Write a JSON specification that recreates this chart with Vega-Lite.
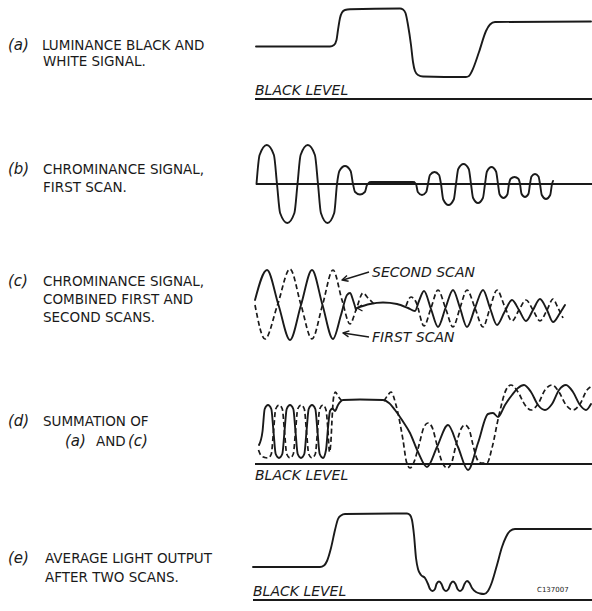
{
"$schema":"https://vega.github.io/schema/vega-lite/v6.json",
"width":592,"height":611,"padding":0,"autosize":{"type":"none"},
"background":"white",
"config":{"view":{"stroke":null}},
"datasets":{
"solid":[
{"id":"a","x":256,"y":46.5},{"id":"a","x":330,"y":46.5},{"id":"a","x":334,"y":45},{"id":"a","x":336.5,"y":40},{"id":"a","x":338,"y":30},{"id":"a","x":340,"y":18},{"id":"a","x":342,"y":12.5},{"id":"a","x":345,"y":10},{"id":"a","x":350,"y":9.3},{"id":"a","x":400,"y":8.5},{"id":"a","x":403,"y":9.5},{"id":"a","x":405.5,"y":13},{"id":"a","x":408,"y":25},{"id":"a","x":411,"y":45},{"id":"a","x":413,"y":62},{"id":"a","x":415,"y":71},{"id":"a","x":418,"y":75},{"id":"a","x":423,"y":76.5},{"id":"a","x":466,"y":77},{"id":"a","x":469,"y":76},{"id":"a","x":472,"y":71},{"id":"a","x":479,"y":52},{"id":"a","x":486,"y":31},{"id":"a","x":490,"y":24.5},{"id":"a","x":495,"y":22},{"id":"a","x":591,"y":21.5},
{"id":"b","x":256.5,"y":184},{"id":"b","x":259.6,"y":155},{"id":"b","x":266.8,"y":145},{"id":"b","x":273.9,"y":155},{"id":"b","x":277,"y":184},
{"id":"b","x":280.1,"y":213},{"id":"b","x":287.3,"y":223},{"id":"b","x":294.4,"y":213},{"id":"b","x":297.5,"y":184},
{"id":"b","x":300.6,"y":155},{"id":"b","x":307.8,"y":145},{"id":"b","x":314.9,"y":155},{"id":"b","x":318,"y":184},
{"id":"b","x":320.9,"y":213},{"id":"b","x":327.5,"y":223},{"id":"b","x":334.2,"y":213},{"id":"b","x":337,"y":184},
{"id":"b","x":339.4,"y":171},{"id":"b","x":345,"y":166},{"id":"b","x":350.6,"y":171},{"id":"b","x":353,"y":184},
{"id":"b","x":355.1,"y":192},{"id":"b","x":360,"y":194.5},{"id":"b","x":364.9,"y":192},{"id":"b","x":367,"y":185},
{"id":"b","x":371,"y":182},{"id":"b","x":413,"y":182},{"id":"b","x":416,"y":184},
{"id":"b","x":417.8,"y":192},{"id":"b","x":422,"y":195},{"id":"b","x":426.2,"y":192},{"id":"b","x":428,"y":184},
{"id":"b","x":429.95,"y":175},{"id":"b","x":434.5,"y":172},{"id":"b","x":439.05,"y":175},{"id":"b","x":441,"y":184},
{"id":"b","x":443.25,"y":199.5},{"id":"b","x":448.5,"y":205},{"id":"b","x":453.75,"y":199.5},{"id":"b","x":456,"y":184},
{"id":"b","x":458.25,"y":169},{"id":"b","x":463.5,"y":164},{"id":"b","x":468.75,"y":169},{"id":"b","x":471,"y":184},
{"id":"b","x":473.1,"y":198},{"id":"b","x":478,"y":203},{"id":"b","x":482.9,"y":198},{"id":"b","x":485,"y":184},
{"id":"b","x":486.95,"y":171.5},{"id":"b","x":491.5,"y":167},{"id":"b","x":496.05,"y":171.5},{"id":"b","x":498,"y":184},
{"id":"b","x":499.65,"y":194.5},{"id":"b","x":503.5,"y":198},{"id":"b","x":507.35,"y":194.5},{"id":"b","x":509,"y":184},
{"id":"b","x":510.65,"y":178.8},{"id":"b","x":514.5,"y":177},{"id":"b","x":518.35,"y":178.8},{"id":"b","x":520,"y":184},
{"id":"b","x":521.5,"y":193.7},{"id":"b","x":525,"y":197},{"id":"b","x":528.5,"y":193.7},{"id":"b","x":530,"y":184},
{"id":"b","x":531.5,"y":176.5},{"id":"b","x":535,"y":174},{"id":"b","x":538.5,"y":176.5},{"id":"b","x":540,"y":184},
{"id":"b","x":541.8,"y":195},{"id":"b","x":546,"y":199},{"id":"b","x":550.2,"y":195},{"id":"b","x":552,"y":184},{"id":"b","x":553,"y":181},
{"id":"c1","x":255,"y":300},{"id":"c1","x":267,"y":270},{"id":"c1","x":278.5,"y":305},{"id":"c1","x":290,"y":340},{"id":"c1","x":301,"y":305},{"id":"c1","x":312,"y":270},{"id":"c1","x":322.5,"y":305},{"id":"c1","x":333,"y":339},{"id":"c1","x":341,"y":315},{"id":"c1","x":347,"y":295},{"id":"c1","x":350,"y":293},{"id":"c1","x":353,"y":300},{"id":"c1","x":356,"y":310},
{"id":"c2","x":357,"y":308},{"id":"c2","x":370,"y":304},{"id":"c2","x":383,"y":302.5},{"id":"c2","x":397,"y":304},{"id":"c2","x":408,"y":308},{"id":"c2","x":415,"y":311},{"id":"c2","x":419,"y":301},{"id":"c2","x":424,"y":291},{"id":"c2","x":431,"y":309},{"id":"c2","x":438,"y":327},{"id":"c2","x":445.5,"y":308},{"id":"c2","x":453,"y":290},{"id":"c2","x":460,"y":308},{"id":"c2","x":467,"y":327},{"id":"c2","x":475,"y":308},{"id":"c2","x":483,"y":290},{"id":"c2","x":490,"y":308},{"id":"c2","x":497,"y":325},{"id":"c2","x":504.5,"y":312},{"id":"c2","x":512,"y":300},{"id":"c2","x":519,"y":310},{"id":"c2","x":526,"y":321},{"id":"c2","x":533,"y":310},{"id":"c2","x":540,"y":299},{"id":"c2","x":547,"y":310},{"id":"c2","x":553,"y":322},{"id":"c2","x":560,"y":313},{"id":"c2","x":565,"y":305},
{"id":"d","x":259,"y":445},{"id":"d","x":262.5,"y":431.5},{"id":"d","x":264.7,"y":409},{"id":"d","x":268,"y":405},{"id":"d","x":271.3,"y":409},{"id":"d","x":273.5,"y":431.5},
{"id":"d","x":275.7,"y":454},{"id":"d","x":279,"y":458},{"id":"d","x":282.3,"y":454},{"id":"d","x":284.5,"y":431.5},
{"id":"d","x":286.7,"y":409},{"id":"d","x":290,"y":405},{"id":"d","x":293.3,"y":409},{"id":"d","x":295.5,"y":431.5},
{"id":"d","x":297.7,"y":454},{"id":"d","x":301,"y":458},{"id":"d","x":304.3,"y":454},{"id":"d","x":306.5,"y":431.5},
{"id":"d","x":308.7,"y":409},{"id":"d","x":312,"y":405},{"id":"d","x":315.3,"y":409},{"id":"d","x":317.5,"y":431.5},
{"id":"d","x":319.7,"y":454},{"id":"d","x":323,"y":458},{"id":"d","x":326,"y":450},{"id":"d","x":328,"y":428},{"id":"d","x":330,"y":411},{"id":"d","x":332.5,"y":408.5},{"id":"d","x":335,"y":411},{"id":"d","x":338,"y":405},{"id":"d","x":343,"y":400},{"id":"d","x":360,"y":399.5},{"id":"d","x":383,"y":400},
{"id":"d","x":389,"y":403},{"id":"d","x":395,"y":410},{"id":"d","x":402,"y":420},{"id":"d","x":410,"y":433},{"id":"d","x":418,"y":452},{"id":"d","x":427,"y":467},{"id":"d","x":437,"y":447},{"id":"d","x":448,"y":425},{"id":"d","x":458,"y":447},{"id":"d","x":468,"y":470},{"id":"d","x":478,"y":443},{"id":"d","x":488,"y":414},{"id":"d","x":493,"y":413},{"id":"d","x":498,"y":417},
{"id":"d","x":505,"y":405},{"id":"d","x":512,"y":395},{"id":"d","x":518,"y":388},{"id":"d","x":524,"y":385},{"id":"d","x":531,"y":392},{"id":"d","x":538,"y":405},{"id":"d","x":545,"y":410},{"id":"d","x":552,"y":404},{"id":"d","x":559,"y":390},{"id":"d","x":566,"y":385},{"id":"d","x":573,"y":392},{"id":"d","x":580,"y":405},{"id":"d","x":586,"y":410},{"id":"d","x":591,"y":404},
{"id":"e","x":253,"y":567},{"id":"e","x":320,"y":567},{"id":"e","x":324,"y":565.5},{"id":"e","x":327,"y":561},{"id":"e","x":331,"y":548},{"id":"e","x":335,"y":530},{"id":"e","x":338,"y":519},{"id":"e","x":341,"y":515.5},{"id":"e","x":345,"y":514},{"id":"e","x":407,"y":513.5},{"id":"e","x":410,"y":515},{"id":"e","x":412,"y":520},{"id":"e","x":414,"y":535},{"id":"e","x":416,"y":558},{"id":"e","x":418,"y":569},{"id":"e","x":421,"y":575},{"id":"e","x":425,"y":578},{"id":"e","x":428,"y":584},{"id":"e","x":430,"y":589},{"id":"e","x":432.5,"y":591},{"id":"e","x":435,"y":589},{"id":"e","x":436.5,"y":584},{"id":"e","x":439,"y":581.5},{"id":"e","x":441.5,"y":584},{"id":"e","x":443.5,"y":589},{"id":"e","x":446,"y":591},{"id":"e","x":448.5,"y":589},{"id":"e","x":450.5,"y":584},{"id":"e","x":453,"y":581.5},{"id":"e","x":455.5,"y":584},{"id":"e","x":457.5,"y":589},{"id":"e","x":460,"y":591},{"id":"e","x":462.5,"y":589},{"id":"e","x":464.5,"y":584},{"id":"e","x":467,"y":581},{"id":"e","x":469.5,"y":583},{"id":"e","x":472,"y":588},{"id":"e","x":476,"y":592},{"id":"e","x":480,"y":593.5},{"id":"e","x":484,"y":594},{"id":"e","x":488,"y":591},{"id":"e","x":492,"y":582},{"id":"e","x":497,"y":565},{"id":"e","x":502,"y":547},{"id":"e","x":506,"y":537},{"id":"e","x":510,"y":531},{"id":"e","x":515,"y":529},{"id":"e","x":591,"y":529}
],
"dashed":[
{"id":"c1","x":255,"y":305},{"id":"c1","x":265,"y":339},{"id":"c1","x":277.5,"y":305},{"id":"c1","x":290,"y":269},{"id":"c1","x":301,"y":305},{"id":"c1","x":312,"y":339},{"id":"c1","x":322.5,"y":305},{"id":"c1","x":333,"y":270},{"id":"c1","x":342,"y":300},{"id":"c1","x":350,"y":324},{"id":"c1","x":356,"y":310},{"id":"c1","x":363,"y":293},{"id":"c1","x":368,"y":298},{"id":"c1","x":374,"y":304},
{"id":"c2","x":406,"y":306},{"id":"c2","x":411,"y":297},{"id":"c2","x":416,"y":302},{"id":"c2","x":424,"y":326},{"id":"c2","x":431,"y":308},{"id":"c2","x":438,"y":290},{"id":"c2","x":445.5,"y":308},{"id":"c2","x":453,"y":327},{"id":"c2","x":460,"y":308},{"id":"c2","x":467,"y":290},{"id":"c2","x":475,"y":308},{"id":"c2","x":483,"y":327},{"id":"c2","x":490,"y":308},{"id":"c2","x":497,"y":290},{"id":"c2","x":504.5,"y":306},{"id":"c2","x":512,"y":321},{"id":"c2","x":519,"y":310},{"id":"c2","x":526,"y":300},{"id":"c2","x":533,"y":310},{"id":"c2","x":540,"y":321},{"id":"c2","x":547,"y":310},{"id":"c2","x":553,"y":299},{"id":"c2","x":558,"y":308},{"id":"c2","x":563,"y":318},
{"id":"d1","x":258.5,"y":450},{"id":"d1","x":261,"y":455.5},{"id":"d1","x":264.7,"y":457.5},{"id":"d1","x":268,"y":458},{"id":"d1","x":271.3,"y":454},{"id":"d1","x":273.5,"y":431.5},
{"id":"d1","x":275.7,"y":409},{"id":"d1","x":279,"y":405},{"id":"d1","x":282.3,"y":409},{"id":"d1","x":284.5,"y":431.5},
{"id":"d1","x":286.7,"y":454},{"id":"d1","x":290,"y":458},{"id":"d1","x":293.3,"y":454},{"id":"d1","x":295.5,"y":431.5},
{"id":"d1","x":297.7,"y":409},{"id":"d1","x":301,"y":405},{"id":"d1","x":304.3,"y":409},{"id":"d1","x":306.5,"y":431.5},
{"id":"d1","x":308.7,"y":454},{"id":"d1","x":312,"y":458},{"id":"d1","x":315.3,"y":454},{"id":"d1","x":317.5,"y":431.5},
{"id":"d1","x":319.7,"y":409},{"id":"d1","x":323,"y":405},{"id":"d1","x":326,"y":410},{"id":"d1","x":328,"y":431},{"id":"d1","x":329.5,"y":452},{"id":"d1","x":331,"y":440},{"id":"d1","x":332,"y":420},{"id":"d1","x":333.5,"y":398},{"id":"d1","x":335.5,"y":392},{"id":"d1","x":338,"y":396},{"id":"d1","x":342,"y":401},
{"id":"d2","x":384,"y":401},{"id":"d2","x":388,"y":395},{"id":"d2","x":391,"y":392},{"id":"d2","x":396,"y":405},{"id":"d2","x":403,"y":440},{"id":"d2","x":406.5,"y":462},{"id":"d2","x":410,"y":468},{"id":"d2","x":414,"y":462},{"id":"d2","x":419,"y":445},{"id":"d2","x":424,"y":427},{"id":"d2","x":428,"y":423},{"id":"d2","x":432,"y":427},{"id":"d2","x":437,"y":445},{"id":"d2","x":442.5,"y":463},{"id":"d2","x":447,"y":468},{"id":"d2","x":451.5,"y":463},{"id":"d2","x":456,"y":445},{"id":"d2","x":461,"y":429},{"id":"d2","x":465,"y":425},{"id":"d2","x":469,"y":429},{"id":"d2","x":473,"y":445},{"id":"d2","x":477,"y":459},{"id":"d2","x":481,"y":463},{"id":"d2","x":487,"y":463},{"id":"d2","x":492,"y":448},{"id":"d2","x":499,"y":415},{"id":"d2","x":506,"y":390},{"id":"d2","x":511,"y":385},
{"id":"d2","x":518,"y":392},{"id":"d2","x":525,"y":405},{"id":"d2","x":531,"y":410},{"id":"d2","x":538,"y":404},{"id":"d2","x":545,"y":390},{"id":"d2","x":552,"y":385},{"id":"d2","x":559,"y":392},{"id":"d2","x":566,"y":405},{"id":"d2","x":573,"y":410},{"id":"d2","x":580,"y":404},{"id":"d2","x":587,"y":390},{"id":"d2","x":592,"y":386}
],
"levels":[
{"id":"a","o":1,"x":255,"y":99},{"id":"a","o":2,"x":592,"y":99},
{"id":"b","o":1,"x":256,"y":184},{"id":"b","o":2,"x":592,"y":184},
{"id":"d","o":1,"x":255,"y":464},{"id":"d","o":2,"x":592,"y":464},
{"id":"e","o":1,"x":253,"y":600},{"id":"e","o":2,"x":592,"y":600}
],
"arrows":[
{"id":"s1","o":1,"x":369,"y":272},{"id":"s1","o":2,"x":343,"y":280},
{"id":"h1","o":1,"x":347,"y":275.4},{"id":"h1","o":2,"x":342,"y":280},{"id":"h1","o":3,"x":348.6,"y":281.2},
{"id":"s2","o":1,"x":369,"y":337},{"id":"s2","o":2,"x":343,"y":333},
{"id":"h2","o":1,"x":349.4,"y":330.9},{"id":"h2","o":2,"x":343,"y":333},{"id":"h2","o":3,"x":348.5,"y":336.9},
{"id":"h3","o":1,"x":362,"y":305},{"id":"h3","o":2,"x":357,"y":308},{"id":"h3","o":3,"x":362.5,"y":311}
],
"band":[{"x":369,"y":182.6},{"x":415,"y":182.6}],
"labels":[
{"text":"LUMINANCE BLACK AND","x":42,"y":50},
{"text":"WHITE SIGNAL.","x":43,"y":66},
{"text":"CHROMINANCE SIGNAL,","x":43,"y":174},
{"text":"FIRST SCAN.","x":43,"y":192},
{"text":"CHROMINANCE SIGNAL,","x":43,"y":286},
{"text":"COMBINED FIRST AND","x":43,"y":304},
{"text":"SECOND SCANS.","x":43,"y":321.5},
{"text":"SUMMATION OF","x":43,"y":426},
{"text":"AND","x":96,"y":445.5},
{"text":"AVERAGE LIGHT OUTPUT","x":45,"y":563},
{"text":"AFTER TWO SCANS.","x":45,"y":581.5}
],
"letters":[
{"text":"(a)","x":8,"y":50},{"text":"(b)","x":8,"y":174},{"text":"(c)","x":8,"y":286},{"text":"(d)","x":8,"y":426},{"text":"(e)","x":8,"y":563},
{"text":"(a)","x":65,"y":445.5},{"text":"(c)","x":128,"y":445.5}
],
"italics":[
{"text":"BLACK LEVEL","x":255,"y":95},{"text":"BLACK LEVEL","x":255,"y":480},{"text":"BLACK LEVEL","x":253,"y":596},
{"text":"SECOND SCAN","x":372,"y":277},{"text":"FIRST SCAN","x":372,"y":342}
],
"code":[{"text":"C137007","x":537,"y":592}]
},
"encoding":{
"x":{"field":"x","type":"quantitative","scale":{"domain":[0,592],"nice":false,"zero":false},"axis":null},
"y":{"field":"y","type":"quantitative","scale":{"domain":[0,611],"reverse":true,"nice":false,"zero":false},"axis":null}
},
"layer":[
{"data":{"name":"band"},"mark":{"type":"line","color":"#8c8c8c","strokeWidth":3.2},"encoding":{}},
{"data":{"name":"levels"},"mark":{"type":"line","color":"#1a1a1a","strokeWidth":2},"encoding":{"detail":{"field":"id"},"order":{"field":"o"}}},
{"data":{"name":"solid"},"mark":{"type":"line","color":"#1a1a1a","strokeWidth":1.9,"interpolate":"monotone","strokeJoin":"round","strokeCap":"round"},"encoding":{"detail":{"field":"id"}}},
{"data":{"name":"dashed"},"mark":{"type":"line","color":"#1a1a1a","strokeWidth":1.7,"interpolate":"monotone","strokeDash":[5,3]},"encoding":{"detail":{"field":"id"}}},
{"data":{"name":"arrows"},"mark":{"type":"line","color":"#1a1a1a","strokeWidth":1.4,"strokeJoin":"round"},"encoding":{"detail":{"field":"id"},"order":{"field":"o"}}},
{"data":{"name":"labels"},"mark":{"type":"text","align":"left","baseline":"alphabetic","font":"DejaVu Sans","fontSize":13.5,"color":"#1a1a1a"},"encoding":{"text":{"field":"text"}}},
{"data":{"name":"letters"},"mark":{"type":"text","align":"left","baseline":"alphabetic","font":"DejaVu Sans","fontSize":15,"fontStyle":"italic","fontWeight":300,"color":"#1a1a1a"},"encoding":{"text":{"field":"text"}}},
{"data":{"name":"italics"},"mark":{"type":"text","align":"left","baseline":"alphabetic","font":"DejaVu Sans","fontSize":14,"fontStyle":"italic","color":"#1a1a1a"},"encoding":{"text":{"field":"text"}}},
{"data":{"name":"code"},"mark":{"type":"text","align":"left","baseline":"alphabetic","font":"DejaVu Sans","fontSize":7,"color":"#1a1a1a"},"encoding":{"text":{"field":"text"}}}
]
}
